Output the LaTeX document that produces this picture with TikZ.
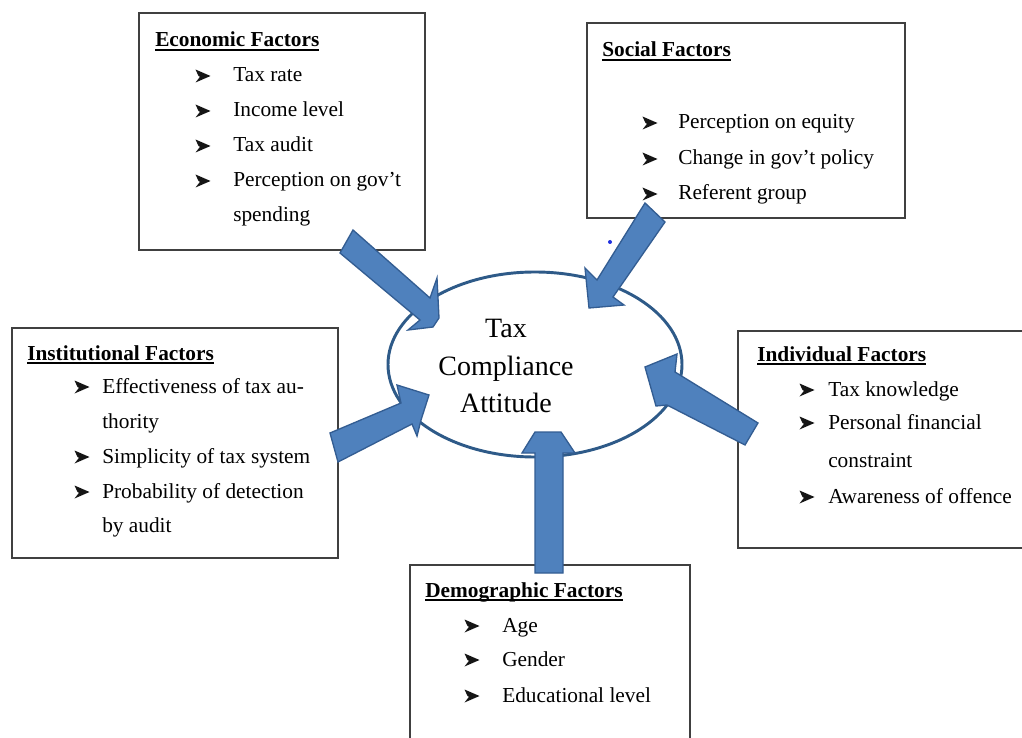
\documentclass[tikz,border=0pt]{standalone}
\usepackage{fontspec}
\setmainfont{Liberation Serif}
\newsavebox\ulbox
\newcommand\myul[1]{\sbox\ulbox{#1}\rlap{\rule[-3pt]{\wd\ulbox}{1.4pt}}\usebox\ulbox}
\usetikzlibrary{calc,fit,shapes.geometric}
\definecolor{arrowfill}{HTML}{4F81BD}
\definecolor{arrowline}{HTML}{335D92}
\definecolor{ellline}{HTML}{2E5A88}
\definecolor{boxline}{HTML}{404040}
\definecolor{dotblue}{HTML}{2030E0}
\definecolor{bulcol}{HTML}{151515}
\tikzset{
  fbox/.style={draw=boxline, line width=1.1pt, inner sep=0pt, fill=white},
  ttl/.style={anchor=base west, inner sep=0pt, font=\fontsize{16}{18}\selectfont\bfseries},
  itm/.style={anchor=base west, inner sep=0pt, font=\fontsize{16}{18}\selectfont},
  bulshape/.style={fill=bulcol, line join=miter},
  ctext/.style={align=center, inner sep=0pt, font=\fontsize{21}{28}\selectfont},
  barrow/.style={fill=arrowfill, draw=arrowline, line width=1pt, line join=miter},
  ell/.style={ellipse, draw=ellline, line width=2.2pt, fill=white},
}
\newcommand\itemlist[4]{%
  \foreach \t/\y/\b [count=\i] in {#4} {
    \node[itm] (#1-t\i) at (#3,\y) {\t};
    \ifnum\b=1
      \coordinate (#1-b\i) at (#2,\y-6);
      \fill[bulshape] ([shift={(-7.5,-6.5)}]#1-b\i) -- ([shift={(7.5,0)}]#1-b\i) -- ([shift={(-7.5,6.5)}]#1-b\i) -- ([shift={(-3,0.8)}]#1-b\i) -- ([shift={(-4.5,0)}]#1-b\i) -- cycle;
    \fi
  }
}
\begin{document}
\begin{tikzpicture}[x=0.75pt,y=-0.75pt]
\useasboundingbox (0,0) rectangle (1022,738);
\clip (0,0) rectangle (1022,738);
\fill[white] (0,0) rectangle (1022,738);

% boxes
\coordinate (e1) at (139,13);  \coordinate (e2) at (425,250);
\coordinate (s1) at (587,23);  \coordinate (s2) at (905,218);
\coordinate (n1) at (12,328);  \coordinate (n2) at (338,558);
\coordinate (i1) at (738,331); \coordinate (i2) at (1030,548);
\coordinate (d1) at (410,565); \coordinate (d2) at (690,750);
\node[fbox, fit=(e1)(e2)] (econ) {};
\node[fbox, fit=(s1)(s2)] (soc) {};
\node[fbox, fit=(n1)(n2)] (inst) {};
\node[fbox, fit=(i1)(i2)] (indiv) {};
\node[fbox, fit=(d1)(d2)] (demo) {};

% Economic
\node[ttl] (econ-title) at (155,47) {\myul{Economic Factors}};
\itemlist{econ}{203}{233}{Tax rate/82/1, Income level/117/1, Tax audit/152/1, Perception on gov’t/187/1, spending/222/0}

% Social
\node[ttl] (soc-title) at (602,57) {\myul{Social Factors}};
\itemlist{soc}{650}{678}{Perception on equity/129/1, Change in gov’t policy/165/1, Referent group/200/1}

% Institutional
\node[ttl] (inst-title) at (27,360) {\myul{Institutional Factors}};
\itemlist{inst}{82}{102}{Effectiveness of tax au-/393/1, thority/428/0, Simplicity of tax system/463/1, Probability of detection/498/1, by audit/532/0}

% Individual
\node[ttl] (indiv-title) at (757,361) {\myul{Individual Factors}};
\itemlist{indiv}{807}{828}{Tax knowledge/396/1, Personal financial/429/1, constraint/467/0, Awareness of offence/503/1}

% Demographic
\node[ttl] (demo-title) at (425,597) {\myul{Demographic Factors}};
\itemlist{demo}{472}{502}{Age/632/1, Gender/666/1, Educational level/702/1}

% centre
\node[ell, minimum width=220.5pt, minimum height=138.75pt, inner sep=0pt] (tca) at (535,364.5) {};
\node[ctext] (tca-text) at (506,366) {Tax\\Compliance\\Attitude};

% block arrows (economic, social, institutional, individual, demographic)
\draw[barrow] (353,230) -- (430,298) -- (437,278) -- (439,318) -- (433,327) -- (408,330) -- (420,320) -- (340,253) -- cycle;
\draw[barrow] (645,203) -- (597,280) -- (585,268) -- (589,308) -- (624,305) -- (613,297) -- (665,222) -- cycle;
\draw[barrow] (330,433) -- (401,403) -- (397,385) -- (429,395) -- (421,420) -- (417,436) -- (412,424) -- (338,462) -- cycle;
\draw[barrow] (758,423) -- (675,372) -- (677,354) -- (645,367) -- (656,406) -- (667,405) -- (745,445) -- cycle;
\draw[barrow] (535,573) -- (535,453) -- (522,453) -- (535,432) -- (561,432) -- (575,453) -- (563,453) -- (563,573) -- cycle;

\fill[dotblue] (610,242) circle (2);
\end{tikzpicture}
\end{document}
